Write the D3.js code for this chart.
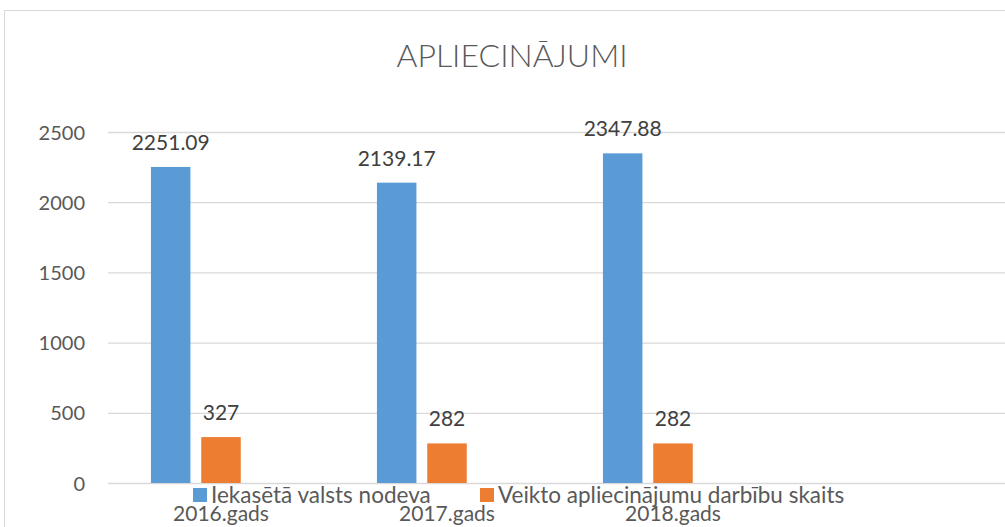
<!DOCTYPE html>
<html>
<head>
<meta charset="utf-8">
<script src="https://cdn.jsdelivr.net/npm/d3@7"></script>
<style>
  body { margin: 0; background: #fff; overflow: hidden; }
  svg { display: block; font-family: Lato, "Open Sans", sans-serif; }
</style>
</head>
<body>
<svg id="chart" width="1005" height="527"></svg>
<script>
// chart data
const categories = ['2016.gads', '2017.gads', '2018.gads', '']
const seriesNames = ['Iekasētā valsts nodeva', 'Veikto apliecinājumu darbību skaits', '']
const nodeva = [2251.09, 2139.17, 2347.88, null]
const darbibas = [327, 282, 282, null]
const empty = [null, null, null, null]
const seriesColors = ['#5B9BD5', '#ED7D31', 'none']
const yTicks = [0, 500, 1000, 1500, 2000, 2500]

const textColor = '#595959'
const seriesValues = [nodeva, darbibas, empty]

svg = d3.select('#chart')

// outer chart border
svg.append('rect')
    .attr('x', 4.5).attr('y', 10.5)
    .attr('width', 1040).attr('height', 540)
    .attr('fill', 'white')
    .attr('stroke', '#D9D9D9')
    .attr('stroke-width', 1)

let plot = { left: 108, right: 1012, top: 132, bottom: 483 }

let y = d3.scaleLinear().domain([0, 2500]).range([plot.bottom, plot.top])
let x0 = d3.scaleBand().domain(categories).range([plot.left, plot.right])
    .paddingInner(0.38).paddingOuter(0.19)
let x1 = d3.scaleBand().domain(seriesNames).range([0, x0.bandwidth()])
    .paddingInner(0.215)

// title
svg.append('text')
    .attr('x', 512).attr('y', 67)
    .attr('text-anchor', 'middle')
    .attr('fill', textColor)
    .style('font-size', '32px')
    .style('font-weight', 300)
    .text('APLIECINĀJUMI')

// gridlines + y axis
let yAxis = d3.axisLeft(y).tickValues(yTicks).tickFormat(d3.format('d'))
    .tickSize(-(plot.right - plot.left)).tickPadding(0)
let gy = svg.append('g').attr('transform', `translate(${plot.left},0)`).call(yAxis)
gy.select('.domain').remove()
gy.selectAll('.tick line').attr('stroke', '#D9D9D9').attr('stroke-width', 1.3)
gy.selectAll('.tick text')
    .attr('x', -23).attr('dy', '0.35em')
    .attr('fill', textColor)
    .style('font-size', '20px')
    .style('font-family', 'Lato, sans-serif')

// bars
let groups = svg.selectAll('g.cat')
    .data(categories)
    .join('g')
    .attr('class', 'cat')
    .attr('transform', (d) => `translate(${x0(d)},0)`)

groups.each(function (cat, ci) {
    let g = d3.select(this)
    seriesNames.forEach((s, si) => {
        let v = seriesValues[si][ci]
        if (v == null) return
        g.append('rect')
            .attr('x', x1(s))
            .attr('y', y(v))
            .attr('width', x1.bandwidth())
            .attr('height', y(0) - y(v))
            .attr('fill', seriesColors[si])
        g.append('text')
            .attr('x', x1(s) + x1.bandwidth() / 2)
            .attr('y', y(v) - 17)
            .attr('text-anchor', 'middle')
            .attr('fill', '#404040')
            .style('font-size', '21px')
            .text(v)
    })
})

// category labels
svg.selectAll('text.cat-label')
    .data(categories)
    .join('text')
    .attr('class', 'cat-label')
    .attr('x', (d) => x0(d) + x0.bandwidth() / 2)
    .attr('y', 521)
    .attr('text-anchor', 'middle')
    .attr('fill', textColor)
    .style('font-size', '21px')
    .text((d) => d)

// legend
let legendX = [193, 480]
let legend = svg.selectAll('g.legend')
    .data(seriesNames.slice(0, 2))
    .join('g')
    .attr('class', 'legend')
    .attr('transform', (d, i) => `translate(${legendX[i]},488)`)
legend.append('rect')
    .attr('width', 14).attr('height', 14)
    .attr('fill', (d, i) => seriesColors[i])
legend.append('text')
    .attr('x', 18).attr('y', 15)
    .attr('fill', textColor)
    .style('font-size', '22.5px')
    .text((d) => d)
</script>
</body>
</html>
